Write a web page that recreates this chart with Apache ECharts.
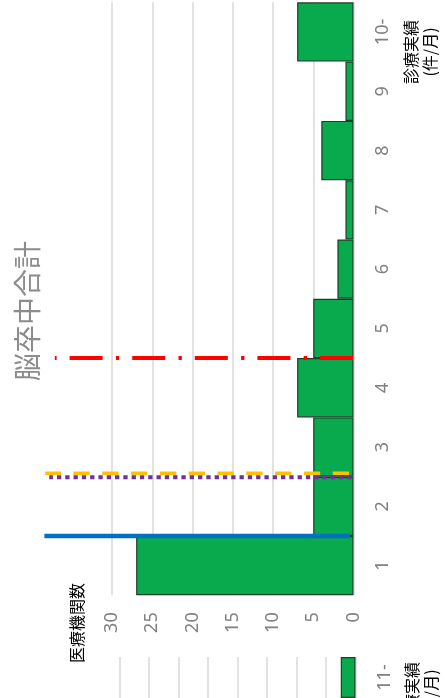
<!DOCTYPE html>
<html><head><meta charset="utf-8">
<script src="https://cdn.jsdelivr.net/npm/echarts@6/dist/echarts.min.js"></script>
<style>html,body{margin:0;padding:0;background:#fff}#c{width:445px;height:698px}</style>
</head><body><div id="c"></div>
<script>
// ---- data ----
const categories = ['1', '2', '3', '4', '5', '6', '7', '8', '9', '10-'];
const institutionCounts = [27, 5, 5, 7, 5, 2, 1, 4, 1, 7];
const valueTickInterval = 5;
const valueMax = 30;
const nextCategories = ['11-'];
const nextCounts = [2.5];
const nextValueMax = 40;
const titleText = '脳卒中合計';
const valueAxisName = '医療機関数';
const categoryAxisName = '診療実績\n(件/月)';
// reference lines (category position, start/end in value units)
const refLineAt = [1.5, 2.56, 2.49, 4.5];
const refLineFrom = [0.43, 0.56, 0.22, 0.06];
const refLineTo = [38.4, 38.3, 37.8, 37.1];
const refAxisMax = 40;

// ---- styles ----
const refStyles = [
  { color: '#0070C0', width: 4.5, type: 'solid' },
  { color: '#FFC000', width: 3.5, type: [16.3, 12.5] },
  { color: '#7030A0', width: 4, type: [4.3, 4] },
  { color: '#FF0000', width: 4, type: [33, 13, 3.3, 13.3] }
];
const FONT = '"Noto Sans", "Noto Sans CJK JP", sans-serif';
const CJK = '"Noto Sans CJK JP", sans-serif';
const labelColor = '#808080';
const gridColor = '#d9d9d9';
const barColor = '#08AA4D';
const barBorder = '#1f3d28';

const plotRight = 91.5;
const plotLeft = 112;
const pxPerUnit = (445 - plotRight - plotLeft) / valueMax;

const chart = echarts.init(document.getElementById('c'), null, { renderer: 'canvas' });

const refSeries = refLineAt.map((pos, i) => ({
  type: 'line',
  xAxisIndex: 2,
  yAxisIndex: 3,
  data: [[refLineFrom[i], pos], [refLineTo[i], pos]],
  symbol: 'none',
  silent: true,
  z: 5,
  lineStyle: { color: refStyles[i].color, width: refStyles[i].width, type: refStyles[i].type, cap: 'butt' }
}));

chart.setOption({
  animation: false,
  backgroundColor: '#fff',
  grid: [
    { left: plotLeft, right: plotRight, top: 2.3, height: 593 },
    { left: 119.5, right: 89.5, top: 657, height: 59.3 },
    { left: 445 - plotRight - refAxisMax * pxPerUnit, right: plotRight, top: 2.3, height: 593 }
  ],
  xAxis: [
    {
      type: 'value', gridIndex: 0, inverse: true, position: 'bottom',
      min: 0, max: valueMax, interval: valueTickInterval,
      axisLine: { show: false }, axisTick: { show: false },
      axisLabel: { rotate: 90, margin: 17, fontSize: 18, color: labelColor, fontFamily: FONT },
      splitLine: { show: true, lineStyle: { color: gridColor, width: 1.5 } }
    },
    {
      type: 'value', gridIndex: 1, inverse: true, position: 'bottom',
      min: 0, max: nextValueMax, interval: valueTickInterval,
      axisLine: { show: false }, axisTick: { show: false },
      axisLabel: { show: false },
      splitLine: { show: true, lineStyle: { color: gridColor, width: 1.5 } }
    },
    {
      type: 'value', gridIndex: 2, inverse: true, min: 0, max: refAxisMax, show: false,
      splitLine: { show: false }
    }
  ],
  yAxis: [
    {
      type: 'category', gridIndex: 0, position: 'right', data: categories,
      axisLine: { show: false }, axisTick: { show: false },
      axisLabel: { rotate: 90, margin: 20, fontSize: 18, color: labelColor, fontFamily: FONT },
      splitLine: { show: false }
    },
    {
      type: 'value', gridIndex: 0, min: 0.5, max: categories.length + 0.5, show: false
    },
    {
      type: 'category', gridIndex: 1, position: 'right', data: nextCategories,
      axisLine: { show: false }, axisTick: { show: false },
      axisLabel: { rotate: 90, margin: 20, fontSize: 18, color: labelColor, fontFamily: FONT },
      splitLine: { show: false }
    },
    {
      type: 'value', gridIndex: 2, min: 0.5, max: categories.length + 0.5, show: false,
      splitLine: { show: false }
    }
  ],
  series: [
    {
      type: 'bar', xAxisIndex: 0, yAxisIndex: 0, data: institutionCounts,
      barCategoryGap: '0%', silent: true,
      itemStyle: { color: barColor, borderColor: barBorder, borderWidth: 1.2 }
    },
    {
      type: 'bar', xAxisIndex: 1, yAxisIndex: 2, data: nextCounts,
      barCategoryGap: '0%', silent: true,
      itemStyle: { color: barColor, borderColor: barBorder, borderWidth: 1.2 }
    }
  ].concat(refSeries),
  graphic: [
    {
      type: 'text', x: 27, y: 311, rotation: Math.PI / 2,
      style: { text: titleText, align: 'center', verticalAlign: 'middle', fill: '#8c8c8c', font: '28px ' + CJK }
    },
    {
      type: 'text', x: 77, y: 623, rotation: Math.PI / 2,
      style: { text: valueAxisName, align: 'center', verticalAlign: 'middle', fill: '#000', font: '16px ' + CJK }
    },
    {
      type: 'text', x: 420, y: 52, rotation: Math.PI / 2,
      style: { text: categoryAxisName, align: 'center', verticalAlign: 'middle', fill: '#000', font: '16px ' + CJK, lineHeight: 19 }
    },
    {
      type: 'text', x: 421, y: 694, rotation: Math.PI / 2,
      style: { text: categoryAxisName, align: 'center', verticalAlign: 'middle', fill: '#000', font: '16px ' + CJK, lineHeight: 19 }
    }
  ]
});
</script>
</body></html>
